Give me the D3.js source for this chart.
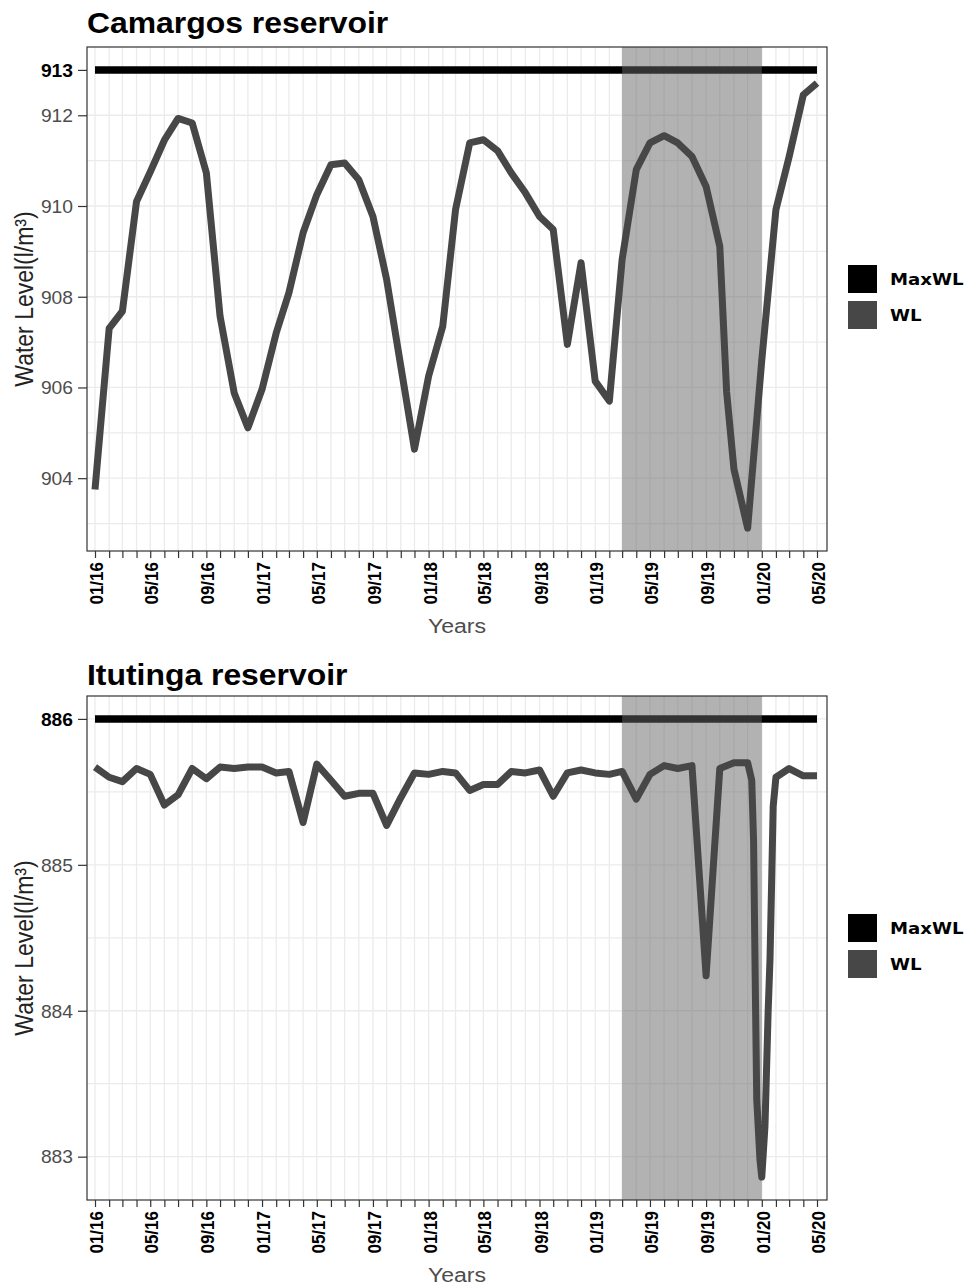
<!DOCTYPE html>
<html><head><meta charset="utf-8">
<script src="https://cdn.jsdelivr.net/npm/d3@7"></script>
<style>body{margin:0;background:#fff}</style>
</head><body><svg id="c" width="968" height="1287"></svg>
<script>
// ---------------- DATA ----------------
const camDates = [
"2016-01-01","2016-02-01","2016-03-01","2016-04-01","2016-05-01","2016-06-01","2016-07-01","2016-08-01","2016-09-01","2016-10-01","2016-11-01","2016-12-01",
"2017-01-01","2017-02-01","2017-03-01","2017-04-01","2017-05-01","2017-06-01","2017-07-01","2017-08-01","2017-09-01","2017-10-01","2017-11-01","2017-12-01",
"2018-01-01","2018-02-01","2018-03-01","2018-04-01","2018-05-01","2018-06-01","2018-07-01","2018-08-01","2018-09-01","2018-10-01","2018-11-01","2018-12-01",
"2019-01-01","2019-02-01","2019-03-01","2019-04-01","2019-05-01","2019-06-01","2019-07-01","2019-08-01","2019-09-01","2019-10-01","2019-10-16","2019-11-01","2019-12-01",
"2020-01-01","2020-02-01","2020-03-01","2020-04-01","2020-05-01"];
const camWL = [
903.75,907.3,907.68,910.1,910.75,911.45,911.93,911.83,910.73,907.57,905.88,905.11,
905.96,907.2,908.09,909.41,910.25,910.91,910.95,910.58,909.77,908.38,906.47,904.64,
906.25,907.35,909.92,911.39,911.46,911.22,910.73,910.29,909.77,909.48,906.95,908.75,
906.14,905.7,908.82,910.8,911.39,911.55,911.39,911.09,910.43,909.11,905.9,904.2,902.9,
906.6,909.92,911.09,912.45,912.71];
const camMax = 913;
const camYTicks = [904,906,908,910,912,913];
const camYGrid = [903,904,905,906,907,908,909,910,911,912];

const ituDates = [
"2016-01-01","2016-02-01","2016-03-01","2016-04-01","2016-05-01","2016-06-01","2016-07-01","2016-08-01","2016-09-01","2016-10-01","2016-11-01","2016-12-01",
"2017-01-01","2017-02-01","2017-03-01","2017-04-01","2017-05-01","2017-06-01","2017-07-01","2017-08-01","2017-09-01","2017-10-01","2017-11-01","2017-12-01",
"2018-01-01","2018-02-01","2018-03-01","2018-04-01","2018-05-01","2018-06-01","2018-07-01","2018-08-01","2018-09-01","2018-10-01","2018-11-01","2018-12-01",
"2019-01-01","2019-02-01","2019-03-01","2019-04-01","2019-05-01","2019-06-01","2019-07-01","2019-08-01","2019-09-01","2019-10-01","2019-11-01","2019-12-01",
"2019-12-10","2019-12-14","2019-12-18","2019-12-21","2019-12-28","2020-01-01","2020-01-08","2020-01-12","2020-01-15","2020-01-19","2020-01-23","2020-01-26",
"2020-02-01","2020-03-01","2020-04-01","2020-05-01"];
const ituWL = [
885.67,885.60,885.57,885.66,885.62,885.41,885.48,885.66,885.59,885.67,885.66,885.67,
885.67,885.63,885.64,885.29,885.69,885.58,885.47,885.49,885.49,885.27,885.46,885.63,
885.62,885.64,885.63,885.51,885.55,885.55,885.64,885.63,885.65,885.47,885.63,885.65,
885.63,885.62,885.64,885.45,885.62,885.68,885.66,885.68,884.24,885.66,885.70,885.70,
885.58,885.17,884.12,883.39,882.98,882.86,883.21,883.66,884.0,884.35,884.94,885.40,
885.60,885.66,885.61,885.61];
const ituMax = 886;
const ituYTicks = [883,884,885,886];
const ituYGrid = [883,883.5,884,884.5,885,885.5,886];

const shadeStart = "2019-03-01";
const shadeEnd = "2020-01-01";
const legendLabels = ["MaxWL","WL"];
const titles = ["Camargos reservoir","Itutinga reservoir"];
const xTitle = "Years";
const yTitle = "Water Level(l/m\u00B3)";

// ---------------- DRAW ----------------
const parse = d3.utcParse("%Y-%m-%d");
const fmt = d3.utcFormat("%m/%y");
const SX = 1.1;          // horizontal text stretch of the reference
const L = 87, R = 827;
const FONT = "'Liberation Sans', Arial, sans-serif";
const svg = d3.select("#c");
const legendColors = ["#000000","#474747"];

function panel(cfg) {
  const {top, bottom, title, titleY, dates, values, maxWL, yTicks, yGrid} = cfg;
  const pts = dates.map((d,i)=>({date: parse(d), v: values[i]}));
  const ext = d3.extent(pts, d=>d.date);
  const x = d3.scaleUtc().domain(ext).range([L+8, R-10]);
  const lo = d3.min(values), hi = Math.max(d3.max(values), maxWL);
  const pad = (hi-lo)*0.05;
  const y = d3.scaleLinear().domain([lo-pad, hi+pad]).range([bottom, top]);
  const g = svg.append("g");

  g.append("rect").attr("x",L).attr("y",top).attr("width",R-L).attr("height",bottom-top).attr("fill","#fff");

  const months = d3.utcMonth.range(ext[0], d3.utcMonth.offset(ext[1],1));
  g.append("g").selectAll("line").data(months).join("line")
    .attr("x1",d=>x(d)).attr("x2",d=>x(d)).attr("y1",top).attr("y2",bottom)
    .attr("stroke","#EBEBEB").attr("stroke-width",1.3);
  g.append("g").selectAll("line").data(yGrid).join("line")
    .attr("x1",L).attr("x2",R).attr("y1",d=>y(d)).attr("y2",d=>y(d))
    .attr("stroke","#EBEBEB").attr("stroke-width",1.3);

  // max water level line
  g.append("line").attr("x1",x(ext[0])).attr("x2",x(ext[1]))
    .attr("y1",y(maxWL)).attr("y2",y(maxWL)).attr("stroke","#000").attr("stroke-width",7.5);

  // shaded period
  const s0 = x(parse(shadeStart)), s1 = x(parse(shadeEnd));
  g.append("rect").attr("x",s0).attr("width",s1-s0).attr("y",top).attr("height",bottom-top)
    .attr("fill","#666").attr("fill-opacity",0.5);

  // WL line
  g.append("path").datum(pts)
    .attr("d", d3.line().x(d=>x(d.date)).y(d=>y(d.v)))
    .attr("fill","none").attr("stroke","#474747").attr("stroke-width",7)
    .attr("stroke-linejoin","round").attr("stroke-linecap","butt");

  // border
  g.append("rect").attr("x",L).attr("y",top).attr("width",R-L).attr("height",bottom-top)
    .attr("fill","none").attr("stroke","#333").attr("stroke-width",1.2);

  // x axis
  const xa = g.append("g").attr("transform",`translate(0,${bottom})`)
    .call(d3.axisBottom(x).tickValues(months).tickSize(7)
      .tickFormat(d => (d.getUTCMonth()%4===0) ? fmt(d) : ""));
  xa.select(".domain").remove();
  xa.selectAll(".tick line").attr("stroke","#333").attr("stroke-width",1.2);
  xa.selectAll(".tick text").attr("y",null).attr("dy","0.4em")
    .attr("transform",`translate(0,11) scale(${SX},1) rotate(-90)`)
    .attr("text-anchor","end").attr("fill","#000")
    .attr("font-family",FONT).attr("font-weight","bold").attr("font-size",17);

  // y axis
  const ya = g.append("g").attr("transform",`translate(${L},0)`)
    .call(d3.axisLeft(y).tickValues(yTicks).tickSize(9).tickFormat(d3.format("d")));
  ya.select(".domain").remove();
  ya.selectAll(".tick line").attr("stroke","#333").attr("stroke-width",1.2);
  ya.selectAll(".tick text").attr("x",null).attr("dy","0.36em")
    .attr("transform",`translate(-14,0) scale(${SX},1)`)
    .attr("text-anchor","end")
    .attr("font-family",FONT).attr("font-size",17.5)
    .attr("font-weight",d => d===maxWL ? "bold" : "normal")
    .attr("fill",d => d===maxWL ? "#000" : "#4D4D4D");

  // title
  g.append("text").attr("transform",`translate(${L},${titleY}) scale(${SX},1)`)
    .attr("font-family",FONT).attr("font-weight","bold").attr("font-size",29)
    .attr("fill","#000").text(title);

  // axis titles
  g.append("text").attr("transform",`translate(${(L+R)/2},${bottom+82}) scale(${SX},1)`)
    .attr("text-anchor","middle").attr("font-family",FONT).attr("font-size",21)
    .attr("fill","#4D4D4D").text(xTitle);
  g.append("text").attr("transform",`translate(33,${(top+bottom)/2}) scale(${SX},1) rotate(-90)`)
    .attr("text-anchor","middle").attr("font-family",FONT).attr("font-size",23)
    .attr("fill","#222").text(yTitle);

  // legend
  const cy = (top+bottom)/2 - 2;
  const lg = g.append("g");
  legendLabels.forEach((lab,i) => {
    const ky = cy - 32 + i*36;
    lg.append("rect").attr("x",848).attr("y",ky).attr("width",29).attr("height",28)
      .attr("fill",legendColors[i]);
    lg.append("text").attr("transform",`translate(890,${ky+20}) scale(${SX},1)`)
      .attr("font-family","'DejaVu Sans', sans-serif").attr("font-weight","bold")
      .attr("font-size",16.5).attr("fill","#000").text(lab);
  });
}

panel({top:47, bottom:551, title:titles[0], titleY:33, dates:camDates, values:camWL,
       maxWL:camMax, yTicks:camYTicks, yGrid:camYGrid});
panel({top:696, bottom:1200, title:titles[1], titleY:685, dates:ituDates, values:ituWL,
       maxWL:ituMax, yTicks:ituYTicks, yGrid:ituYGrid});
</script>
</body></html>
